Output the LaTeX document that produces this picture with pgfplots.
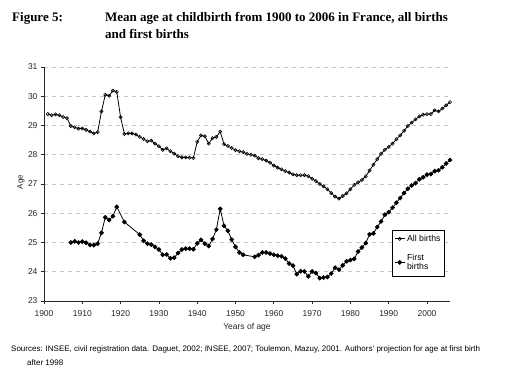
\documentclass[border=0pt]{standalone}
\usepackage{pgfplots}
\pgfplotsset{compat=1.18}
\usepackage{fontspec}
\setmainfont{Liberation Sans}
\newfontfamily\titlefont{Liberation Serif}
\pgfplotstableread{
year val
1901 29.39
1902 29.35
1903 29.38
1904 29.35
1905 29.29
1906 29.25
1907 28.98
1908 28.94
1909 28.89
1910 28.90
1911 28.85
1912 28.79
1913 28.73
1914 28.77
1915 29.48
1916 30.05
1917 30.02
1918 30.19
1919 30.15
1920 29.28
1921 28.71
1922 28.73
1923 28.73
1924 28.69
1925 28.61
1926 28.54
1927 28.46
1928 28.48
1929 28.38
1930 28.29
1931 28.17
1932 28.22
1933 28.12
1934 28.04
1935 27.95
1936 27.91
1937 27.91
1938 27.90
1939 27.89
1940 28.44
1941 28.66
1942 28.63
1943 28.38
1944 28.57
1945 28.61
1946 28.79
1947 28.36
1948 28.30
1949 28.23
1950 28.16
1951 28.12
1952 28.09
1953 28.03
1954 28.00
1955 27.97
1956 27.88
1957 27.85
1958 27.80
1959 27.73
1960 27.63
1961 27.56
1962 27.50
1963 27.44
1964 27.39
1965 27.33
1966 27.30
1967 27.30
1968 27.30
1969 27.27
1970 27.18
1971 27.10
1972 27.00
1973 26.92
1974 26.82
1975 26.69
1976 26.57
1977 26.50
1978 26.59
1979 26.68
1980 26.82
1981 26.97
1982 27.06
1983 27.14
1984 27.26
1985 27.46
1986 27.66
1987 27.85
1988 28.03
1989 28.17
1990 28.27
1991 28.38
1992 28.53
1993 28.66
1994 28.82
1995 28.98
1996 29.10
1997 29.21
1998 29.31
1999 29.37
2000 29.39
2001 29.39
2002 29.52
2003 29.48
2004 29.58
2005 29.69
2006 29.80
}\allbirths
\pgfplotstableread{
year val
1907 25.00
1908 25.04
1909 25.00
1910 25.03
1911 24.99
1912 24.92
1913 24.91
1914 24.96
1915 25.33
1916 25.86
1917 25.77
1918 25.90
1919 26.22
1921 25.70
1925 25.27
1926 25.06
1927 24.96
1928 24.93
1929 24.85
1930 24.76
1931 24.58
1932 24.59
1933 24.46
1934 24.48
1935 24.64
1936 24.76
1937 24.79
1938 24.79
1939 24.77
1940 24.97
1941 25.09
1942 24.96
1943 24.88
1944 25.12
1945 25.44
1946 26.15
1947 25.57
1948 25.40
1949 25.10
1950 24.85
1951 24.66
1952 24.58
1955 24.51
1956 24.57
1957 24.66
1958 24.66
1959 24.62
1960 24.58
1961 24.55
1962 24.53
1963 24.45
1964 24.28
1965 24.21
1966 23.92
1967 24.02
1968 24.01
1969 23.84
1970 24.01
1971 23.95
1972 23.78
1973 23.80
1974 23.82
1975 23.94
1976 24.14
1977 24.07
1978 24.22
1979 24.36
1980 24.40
1981 24.44
1982 24.69
1983 24.83
1984 24.98
1985 25.28
1986 25.31
1987 25.53
1988 25.72
1989 25.95
1990 26.04
1991 26.19
1992 26.36
1993 26.52
1994 26.69
1995 26.84
1996 26.95
1997 27.03
1998 27.16
1999 27.23
2000 27.32
2001 27.34
2002 27.44
2003 27.47
2004 27.57
2005 27.70
2006 27.82
}\firstbirths
\begin{document}
\begin{tikzpicture}[x=1pt,y=1pt]
\useasboundingbox (0,0) rectangle (520,386);
\begin{axis}[
  at={(44pt,85pt)}, anchor=south west,
  scale only axis, width=406pt, height=234pt,
  xmin=1900, xmax=2006, ymin=23, ymax=31,
  axis x line*=bottom, axis y line*=left,
  axis line style={line width=0.9pt, black!85, -},
  xtick={1900,1910,...,2000}, ytick={23,...,31},
  tick align=outside, major tick length=3pt,
  tick style={line width=0.8pt, black!85},
  /pgf/number format/assume math mode=true,
  /pgf/number format/set thousands separator={},
  ticklabel style={font=\fontsize{8.5}{10}\selectfont, text=black!85},
  xticklabel style={yshift=-3.5pt},
  ymajorgrids, major grid style={dashed, gray!45, line width=0.6pt, dash pattern=on 4pt off 4pt},
  legend style={at={(0.857,0.105)}, anchor=south west, draw=black, line width=0.8pt,
    font=\fontsize{8.7}{9.5}\selectfont, cells={anchor=west, align=left}, row sep=7pt,
    inner xsep=2pt, inner ysep=3pt},
  legend image code/.code={\draw[mark repeat=2, mark phase=2, #1] plot coordinates {(0pt,0pt) (5pt,0pt) (10pt,0pt)};},
]
\addplot[black, line width=0.8pt, mark=o, mark size=1.6pt, mark options={line width=0.6pt, fill=white}] table[x=year, y=val] {\allbirths};
\addlegendentry{All births}
\addplot[black, line width=0.8pt, mark=*, mark size=1.9pt] table[x=year, y=val] {\firstbirths};
\addlegendentry{First\\births}
\end{axis}
\node[anchor=base west, inner sep=0pt, font=\titlefont\bfseries\fontsize{13}{16.5}\selectfont] at (12,364) {Figure 5:};
\node[anchor=base west, inner sep=0pt, font=\titlefont\bfseries\fontsize{13}{16.5}\selectfont] at (105,364) {Mean age at childbirth from 1900 to 2006 in France, all births};
\node[anchor=base west, inner sep=0pt, font=\titlefont\bfseries\fontsize{13}{16.5}\selectfont] at (105,347.5) {and first births};
\node[rotate=90, font=\fontsize{8}{9}\selectfont, text=black!85] at (21,204) {Age};
\node[font=\fontsize{8.5}{10}\selectfont, text=black!85] at (247,59) {Years of age};
\node[anchor=base west, inner sep=0pt, font=\fontsize{8}{9}\selectfont] at (11,34.3) {Sources: INSEE, civil registration data. Daguet, 2002; INSEE, 2007; Toulemon, Mazuy, 2001. Authors' projection for age at first birth};
\node[anchor=base west, inner sep=0pt, font=\fontsize{8}{9}\selectfont] at (27,20.3) {after 1998};
\end{tikzpicture}
\end{document}
